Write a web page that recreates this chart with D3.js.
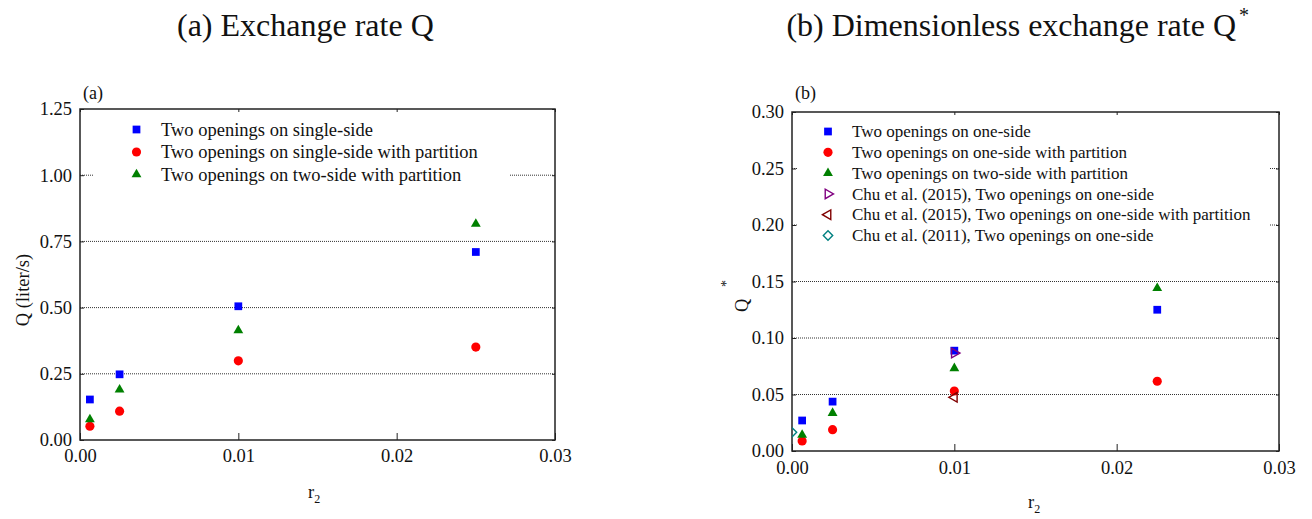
<!DOCTYPE html>
<html>
<head>
<meta charset="utf-8">
<script src="https://cdn.jsdelivr.net/npm/d3@7"></script>
<style>
  body { margin: 0; background: #fff; }
  svg, svg text { font-family: "Liberation Serif", "Times New Roman", serif; }
</style>
</head>
<body>
<div id="chart"></div>
<script>
// ---- panel (a): exchange rate Q (liter/s) ----
var r2A = [0.000625, 0.0025, 0.01, 0.025];
var qSingle = [0.153, 0.248, 0.505, 0.71];
var qSinglePartition = [0.052, 0.109, 0.299, 0.351];
var qTwoPartition = [0.078, 0.19, 0.414, 0.816];
var yTicksA = [0, 0.25, 0.5, 0.75, 1.0, 1.25];
var gridA = [0.25, 0.5, 0.75, 1.0];
var legendA = ["Two openings on single-side",
               "Two openings on single-side with partition",
               "Two openings on two-side with partition"];

// ---- panel (b): dimensionless exchange rate Q* ----
var r2B = [0.000625, 0.0025, 0.01, 0.0225];
var qsOne = [0.027, 0.0437, 0.0888, 0.125];
var qsOnePartition = [0.0089, 0.0189, 0.0531, 0.0617];
var qsTwoPartition = [0.0142, 0.0336, 0.0732, 0.144];
var chu2015OneX = [0.01], chu2015OneY = [0.0867];
var chu2015PartX = [0.01], chu2015PartY = [0.0475];
var chu2011OneX = [0], chu2011OneY = [0.0165];
var yTicksB = [0, 0.05, 0.1, 0.15, 0.2, 0.25, 0.3];
var gridB = [0.05, 0.1, 0.15, 0.2, 0.25];
var legendB = ["Two openings on one-side",
               "Two openings on one-side with partition",
               "Two openings on two-side with partition",
               "Chu et al. (2015), Two openings on one-side",
               "Chu et al. (2015), Two openings on one-side with partition",
               "Chu et al. (2011), Two openings on one-side"];

var xTicks = [0, 0.01, 0.02, 0.03];

var svg = d3.select("#chart").append("svg")
    .attr("width", 1312)
    .attr("height", 519);

// marker styles
var styles = {
  square:   { shape: d3.symbolSquare,   size: 60, color: "#0000ff", fill: true,  rot: 0 },
  circle:   { shape: d3.symbolCircle,   size: 66, color: "#ff0000", fill: true,  rot: 0 },
  triangle: { shape: d3.symbolTriangle, size: 42, color: "#008000", fill: true,  rot: 0 },
  right:    { shape: d3.symbolTriangle, size: 40, color: "#800080", fill: false, rot: 90 },
  left:     { shape: d3.symbolTriangle, size: 40, color: "#800000", fill: false, rot: -90 },
  diamond:  { shape: d3.symbolSquare,   size: 44, color: "#008080", fill: false, rot: 45 }
};

function marker(sel, st) {
  sel.attr("d", d3.symbol().type(st.shape).size(st.size))
    .attr("fill", st.fill ? st.color : "none")
    .attr("stroke", st.fill ? "none" : st.color)
    .attr("stroke-width", 1.4);
}

function panel(o) {
  var g = svg.append("g");
  var x = d3.scaleLinear().domain([0, 0.03]).range([o.left, o.right]);
  var y = d3.scaleLinear().domain([0, o.yMax]).range([o.bottom, o.top]);

  // dotted grid
  g.selectAll(".grid").data(o.grid).enter().append("line")
    .attr("x1", o.left).attr("x2", o.right)
    .attr("y1", function(d) { return y(d); })
    .attr("y2", function(d) { return y(d); })
    .attr("stroke", "#333").attr("stroke-width", 1)
    .attr("stroke-dasharray", "1,1");

  // legend box hides the grid underneath
  g.append("rect")
    .attr("x", o.legBox[0]).attr("y", o.legBox[1])
    .attr("width", o.legBox[2]).attr("height", o.legBox[3])
    .attr("fill", "#fff");

  // axes (ticks point inward)
  var fmt = d3.format(".2f");
  var ax = g.append("g")
    .attr("transform", "translate(0," + o.bottom + ")")
    .call(d3.axisBottom(x).tickValues(xTicks).tickFormat(fmt)
      .tickSizeInner(-7).tickSizeOuter(0).tickPadding(o.xPad));
  var ay = g.append("g")
    .attr("transform", "translate(" + o.left + ",0)")
    .call(d3.axisLeft(y).tickValues(o.yTicks).tickFormat(fmt)
      .tickSizeInner(-4).tickSizeOuter(0).tickPadding(8));
  g.append("g")
    .attr("transform", "translate(0," + o.top + ")")
    .call(d3.axisTop(x).tickValues(xTicks).tickFormat("").tickSizeInner(-3).tickSizeOuter(0));
  g.append("g")
    .attr("transform", "translate(" + o.right + ",0)")
    .call(d3.axisRight(y).tickValues(o.yTicks).tickFormat("").tickSizeInner(-3).tickSizeOuter(0));
  g.selectAll(".domain").remove();
  g.selectAll(".tick line").attr("stroke", "#222");
  [ax, ay].forEach(function(a) {
    a.attr("font-family", "Liberation Serif").attr("font-size", 18.5);
    a.selectAll("text").attr("fill", "#111");
  });

  // frame
  g.append("rect")
    .attr("x", o.left).attr("y", o.top)
    .attr("width", o.right - o.left).attr("height", o.bottom - o.top)
    .attr("fill", "none").attr("stroke", "#222").attr("stroke-width", 1.5);

  // points, clipped to the plot area
  svg.append("clipPath").attr("id", o.id + "clip")
    .append("rect").attr("x", o.left).attr("y", o.top)
    .attr("width", o.right - o.left).attr("height", o.bottom - o.top);
  var pts = g.append("g").attr("clip-path", "url(#" + o.id + "clip)");
  o.series.forEach(function(s) {
    var st = styles[s.type];
    pts.selectAll(null).data(s.xs).enter().append("path")
      .call(marker, st)
      .attr("transform", function(d, i) {
        return "translate(" + x(d) + "," + y(s.ys[i]) + ") rotate(" + st.rot + ")";
      });
  });

  // legend
  var leg = g.append("g");
  o.series.forEach(function(s, i) {
    var st = styles[s.type];
    var ly = o.legY + i * o.legStep;
    leg.append("path").call(marker, st)
      .attr("transform", "translate(" + o.legMarkX + "," + ly + ") rotate(" + st.rot + ")");
    leg.append("text")
      .attr("x", o.legTextX).attr("y", ly)
      .attr("dy", "0.33em")
      .style("font-size", o.legFont)
      .attr("fill", "#111")
      .text(s.label);
  });

  // panel tag
  g.append("text").attr("x", o.left + 3).attr("y", 99)
    .style("font-size", "18px").attr("fill", "#111").text(o.tag);
}

panel({
  id: "a", left: 80, right: 555, top: 109, bottom: 440, yMax: 1.25,
  yTicks: yTicksA, grid: gridA, xPad: 9, tag: "(a)",
  legBox: [93, 114, 416, 76],
  legY: 129.5, legStep: 22.5, legMarkX: 136.5, legTextX: 161, legFont: "18.5px",
  series: [
    { type: "square",   xs: r2A, ys: qSingle,          label: legendA[0] },
    { type: "circle",   xs: r2A, ys: qSinglePartition, label: legendA[1] },
    { type: "triangle", xs: r2A, ys: qTwoPartition,    label: legendA[2] }
  ]
});

panel({
  id: "b", left: 792, right: 1279, top: 112, bottom: 451, yMax: 0.30,
  yTicks: yTicksB, grid: gridB, xPad: 10, tag: "(b)",
  legBox: [797, 118, 473, 130],
  legY: 131.5, legStep: 20.8, legMarkX: 828, legTextX: 852, legFont: "17px",
  series: [
    { type: "square",   xs: r2B, ys: qsOne,          label: legendB[0] },
    { type: "circle",   xs: r2B, ys: qsOnePartition, label: legendB[1] },
    { type: "triangle", xs: r2B, ys: qsTwoPartition, label: legendB[2] },
    { type: "right",    xs: chu2015OneX,  ys: chu2015OneY,  label: legendB[3] },
    { type: "left",     xs: chu2015PartX, ys: chu2015PartY, label: legendB[4] },
    { type: "diamond",  xs: chu2011OneX,  ys: chu2011OneY,  label: legendB[5] }
  ]
});

// titles
svg.append("text").attr("x", 177).attr("y", 36)
  .style("font-size", "32px").attr("fill", "#111")
  .text("(a) Exchange rate Q");
svg.append("text").attr("x", 1236).attr("y", 36)
  .attr("text-anchor", "end")
  .style("font-size", "32px").attr("fill", "#111")
  .text("(b) Dimensionless exchange rate Q");
svg.append("text").attr("x", 1239).attr("y", 22)
  .style("font-size", "20px").attr("fill", "#111").text("*");

// axis titles
svg.append("text")
  .attr("transform", "translate(29,290) rotate(-90)")
  .attr("text-anchor", "middle")
  .style("font-size", "18.5px").attr("fill", "#111")
  .text("Q (liter/s)");
svg.append("text")
  .attr("transform", "translate(748,312) rotate(-90)")
  .style("font-size", "18.5px").attr("fill", "#111")
  .text("Q");
svg.append("text")
  .attr("transform", "translate(731,287) rotate(-90)")
  .style("font-size", "14px").attr("fill", "#111")
  .text("*");

svg.append("text").attr("x", 308).attr("y", 498)
  .style("font-size", "18.5px").attr("fill", "#111")
  .text("r").append("tspan").attr("dy", 5).style("font-size", "12px").text("2");
svg.append("text").attr("x", 1028).attr("y", 508)
  .style("font-size", "18.5px").attr("fill", "#111")
  .text("r").append("tspan").attr("dy", 5).style("font-size", "12px").text("2");
</script>
</body>
</html>
